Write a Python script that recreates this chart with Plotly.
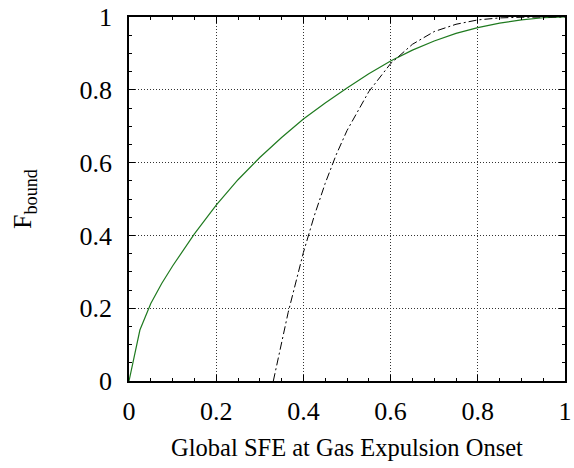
import plotly.graph_objects as go

# Green curve (solid)
sfe_green = [0.0, 0.025, 0.05, 0.075, 0.1, 0.15, 0.2, 0.25, 0.3, 0.35, 0.4, 0.45,
             0.5, 0.55, 0.6, 0.65, 0.7, 0.75, 0.8, 0.85, 0.9, 0.95, 1.0]
fbound_green = [0.0, 0.14, 0.213, 0.268, 0.316, 0.404, 0.483, 0.553, 0.614, 0.669,
                0.72, 0.764, 0.805, 0.844, 0.879, 0.909, 0.934, 0.955, 0.971, 0.983,
                0.992, 0.998, 1.0]

# Black dash-dot curve
sfe_dash = [0.331, 0.35, 0.365, 0.4, 0.425, 0.45, 0.475, 0.5, 0.55, 0.6, 0.65, 0.7,
            0.75, 0.8, 0.85, 0.9, 0.95, 1.0]
fbound_dash = [0.0, 0.109, 0.188, 0.353, 0.454, 0.543, 0.621, 0.688, 0.795, 0.872,
               0.925, 0.96, 0.98, 0.992, 0.9975, 0.9994, 1.0, 1.0]

x_ticks = [0, 0.2, 0.4, 0.6, 0.8, 1]
x_tick_labels = ["0", "0.2", "0.4", "0.6", "0.8", "1"]
y_ticks = [0, 0.2, 0.4, 0.6, 0.8, 1]
y_tick_labels = ["0", "0.2", "0.4", "0.6", "0.8", "1"]

font_family = "Liberation Serif, Times New Roman, serif"

fig = go.Figure()
fig.add_trace(go.Scatter(x=sfe_green, y=fbound_green, mode="lines",
                         line=dict(color="#1f7a1f", width=1.2),
                         showlegend=False))
fig.add_trace(go.Scatter(x=sfe_dash, y=fbound_dash, mode="lines",
                         line=dict(color="black", width=1, dash="8px,3px,2px,3px"),
                         showlegend=False))

axis_common = dict(
    showline=True, linecolor="black", linewidth=1.5, mirror="allticks",
    ticks="inside", ticklen=6, tickwidth=1, tickcolor="black",
    showgrid=True, gridcolor="#333", griddash="1px,2px", gridwidth=1,
    zeroline=False, automargin=False,
    tickfont=dict(family=font_family, size=26, color="black"),
    minor=dict(ticks="inside", ticklen=3, tickcolor="black", dtick=0.05, showgrid=False),
)

fig.update_layout(
    width=574, height=468,
    margin=dict(l=129, r=9, t=17, b=87),
    paper_bgcolor="white", plot_bgcolor="white",
    font=dict(family=font_family, color="black"),
    xaxis=dict(range=[0, 1], tickvals=x_ticks, ticktext=x_tick_labels,
               ticklabelstandoff=6,
               title=dict(text="Global SFE at Gas Expulsion Onset",
                          font=dict(family=font_family, size=24.5, color="black"),
                          standoff=14),
               **axis_common),
    yaxis=dict(range=[0, 1], tickvals=y_ticks, ticktext=y_tick_labels,
               ticklabelstandoff=10,
               title=dict(text="F<sub>bound</sub>",
                          font=dict(family=font_family, size=26, color="black"),
                          standoff=40),
               **axis_common),
)

fig.write_html("out.html")
